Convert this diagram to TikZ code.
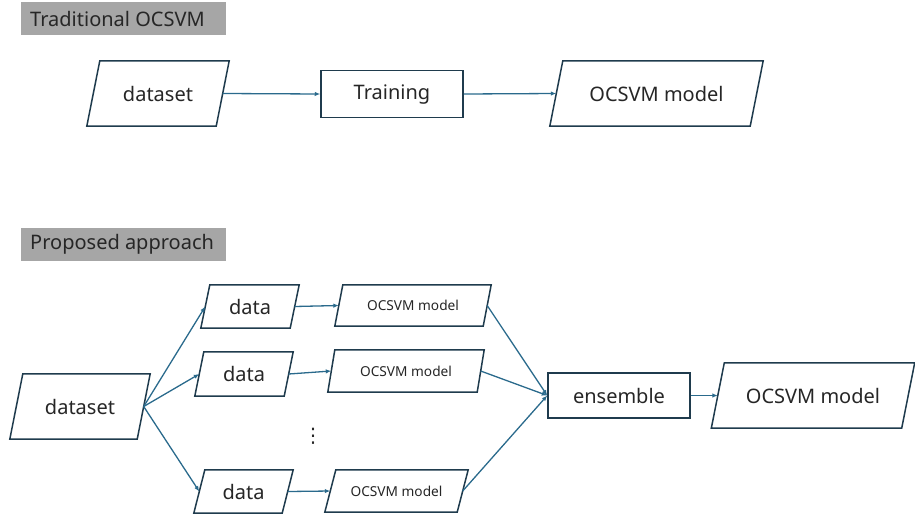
\documentclass[tikz,border=0pt]{standalone}
\usepackage{fontspec}
\setmainfont{Noto Sans}
\newfontfamily\symfont{DejaVu Sans}
\usetikzlibrary{arrows.meta}
\definecolor{edgec}{HTML}{1F3B4D}
\definecolor{arrc}{HTML}{2A6A8C}
\definecolor{hdrc}{HTML}{A6A6A6}
\definecolor{txtc}{HTML}{262626}
\newcommand{\drawpara}[2]{%
  \draw[paraline] ([xshift=#2/2]#1.north west) -- ([xshift=#2/2]#1.north east)
    -- ([xshift=-#2/2]#1.south east) -- ([xshift=-#2/2]#1.south west) -- cycle;}
\begin{document}
\begin{tikzpicture}[x=1pt,y=-1pt,
  para/.style={rectangle, draw=none, inner sep=0pt,
    text=txtc, font=\fontsize{20}{24}\selectfont},
  paraline/.style={draw=edgec, line width=1.5pt, line join=miter},
  boxnode/.style={rectangle, draw=edgec, line width=1.5pt, inner sep=0pt,
    text=txtc, font=\fontsize{20}{24}\selectfont},
  small/.style={font=\fontsize{13.7}{16}\selectfont},
  hdrbox/.style={fill=hdrc, draw=none},
  hdrtext/.style={anchor=west, inner sep=0pt, text=txtc, font=\fontsize{20}{24}\selectfont},
  conn/.style={-{Latex[length=5.5pt,width=4.5pt]}, draw=arrc, line width=1.3pt}
]
\useasboundingbox (0,0) rectangle (915,517);

% headers
\fill[hdrbox] (21,2) rectangle (226,35);
\node[hdrtext] (h1) at (30,18.5) {Traditional OCSVM};
\fill[hdrbox] (21,228) rectangle (226,261);
\node[hdrtext] (h2) at (30,244.5) {Proposed approach};

% traditional (para widths = total width - slant)
\node[para, minimum width=129, minimum height=65] (ds1) at (158,93.5) {dataset};
\node[boxnode, minimum width=142, minimum height=47, text depth=4pt] (train) at (392,94) {Training};
\node[para, minimum width=200, minimum height=65] (oc1) at (656.5,93.5) {OCSVM model};
\drawpara{ds1}{13}
\drawpara{oc1}{13}
\draw[conn] (ds1.east) -- (train.west);
\draw[conn] (train.east) -- (oc1.west);

% proposed
\node[para, minimum width=127, minimum height=65] (ds2) at (80,406.5) {dataset};
\node[para, minimum width=89, minimum height=43] (d1) at (250,306.5) {data};
\node[para, minimum width=89, minimum height=44] (d2) at (244,374) {data};
\node[para, minimum width=88, minimum height=43] (d3) at (243.5,491.5) {data};
\node[para, small, minimum width=148, minimum height=41] (m1) at (413,305.5) {OCSVM model};
\node[para, small, minimum width=149, minimum height=42] (m2) at (406,371) {OCSVM model};
\node[para, small, minimum width=132, minimum height=42] (m3) at (396.5,491) {OCSVM model};
\node[boxnode, minimum width=142, minimum height=45] (ens) at (619,395.5) {ensemble};
\node[para, minimum width=190, minimum height=65] (fin) at (813,395.5) {OCSVM model};
\drawpara{ds2}{13}
\drawpara{d1}{9}
\drawpara{d2}{9}
\drawpara{d3}{11}
\drawpara{m1}{8}
\drawpara{m2}{7}
\drawpara{m3}{11}
\drawpara{fin}{13}
\node[text=txtc, font=\symfont\fontsize{20}{24}\selectfont, inner sep=0pt] (dots) at (313,436) {⋮};

\draw[conn] (ds2.east) -- (d1.west);
\draw[conn] (ds2.east) -- (d2.west);
\draw[conn] (ds2.east) -- (d3.west);
\draw[conn] (d1.east) -- (m1.west);
\draw[conn] (d2.east) -- (m2.west);
\draw[conn] (d3.east) -- (m3.west);
\draw[conn] (m1.east) -- (ens.west);
\draw[conn] (m2.east) -- (ens.west);
\draw[conn] (m3.east) -- (ens.west);
\draw[conn] (ens.east) -- (fin.west);
\end{tikzpicture}
\end{document}
